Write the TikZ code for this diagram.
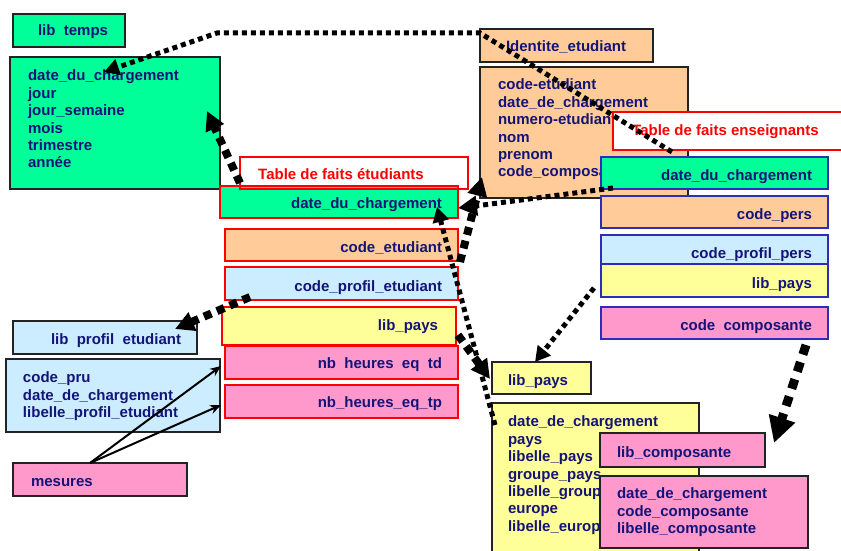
\documentclass[tikz,border=0pt]{standalone}
\usepackage{fontspec}
\setmainfont{Liberation Sans}
\usetikzlibrary{arrows.meta}
\definecolor{navy}{RGB}{20,20,120}
\definecolor{grn}{RGB}{0,255,153}
\definecolor{peach}{RGB}{255,204,153}
\definecolor{lblue}{RGB}{204,236,255}
\definecolor{ylw}{RGB}{255,255,153}
\definecolor{pnk}{RGB}{255,153,204}
\definecolor{dk}{RGB}{35,35,35}
\definecolor{bl}{RGB}{45,45,185}
\newcommand\ugap{\hspace{0.556em}}
\begin{document}
\begin{tikzpicture}[x=1pt,y=-1pt,
  bx/.style={rectangle, anchor=north west, inner sep=0pt, outer sep=0pt, line width=1.3pt},
  dimbox/.style={bx, draw=dk},
  factbox/.style={bx, draw=red},
  ensbox/.style={bx, draw=bl},
  txt/.style={inner sep=0pt, outer sep=0pt, text=navy, font=\fontsize{15}{17.4}\selectfont\bfseries},
  rtxt/.style={txt, anchor=base east},
  ltxt/.style={txt, anchor=base west},
  mtxt/.style={txt, anchor=north west, align=left},
  lbl/.style={inner sep=0pt, text=red, anchor=base west, font=\fontsize{15}{17.4}\selectfont\bfseries},
  dots/.style={line width=5pt, dash pattern=on 5pt off 4pt},
  bigdots/.style={line width=8pt, dash pattern=on 8pt off 6pt},
  hugedots/.style={line width=9pt, dash pattern=on 10pt off 8pt},
  tipS/.style={-{Triangle[length=15pt,width=16pt]}},
  tipM/.style={-{Triangle[length=19pt,width=19pt]}},
  tipL/.style={-{Triangle[length=26pt,width=26pt]}},
  solidarr/.style={line width=2pt, -{Stealth[length=11pt,width=9pt]}}
]
\useasboundingbox (0,0) rectangle (841,551);

% ---- lib_temps dimension
\node[dimbox, fill=grn, minimum width=112pt, minimum height=33pt] (lt) at (13,14) {};
\node[ltxt] (ltT) at (38,36) {lib\ugap temps};
\node[dimbox, fill=grn, minimum width=210pt, minimum height=132pt] (ltb) at (10,57) {};
\node[mtxt] (ltbT) at (28,70) {date\_du\_chargement\\jour\\jour\_semaine\\mois\\trimestre\\année};

% ---- identite etudiant
\node[dimbox, fill=peach, minimum width=173pt, minimum height=33pt] (id) at (480,29) {};
\node[ltxt] (idT) at (506,52) {Identite\_etudiant};
\node[dimbox, fill=peach, minimum width=208pt, minimum height=131pt] (idb) at (480,67) {};
\node[mtxt] (idbT) at (498,79) {code-etudiant\\date\_de\_chargement\\numero-etudiant\\nom\\prenom\\code\_composante};

% ---- fact table etudiants
\node[factbox, fill=grn, minimum width=238pt, minimum height=32pt] (fd) at (220,186) {};
\node[rtxt] (fdT) at (442,208) {date\_du\_chargement};
\node[factbox, draw=red, minimum width=228pt, minimum height=32pt] (fl) at (240,157) {};
\node[lbl] (flT) at (258,179) {Table de faits étudiants};
\node[factbox, fill=peach, minimum width=233pt, minimum height=32pt] (fc) at (225,229) {};
\node[rtxt] (fcT) at (442,252) {code\_etudiant};
\node[factbox, fill=lblue, minimum width=233pt, minimum height=33pt] (fp) at (225,267) {};
\node[rtxt] (fpT) at (442,291) {code\_profil\_etudiant};
\node[factbox, fill=ylw, minimum width=234pt, minimum height=38pt] (fy) at (222,307) {};
\node[rtxt] (fyT) at (438,330) {lib\_pays};
\node[factbox, fill=pnk, minimum width=233pt, minimum height=33pt] (fh) at (225,346) {};
\node[rtxt] (fhT) at (442,368) {nb\ugap heures\ugap eq\ugap td};
\node[factbox, fill=pnk, minimum width=233pt, minimum height=33pt] (ft) at (225,385) {};
\node[rtxt] (ftT) at (442,407) {nb\_heures\_eq\_tp};

% ---- fact table enseignants
\node[factbox, fill=white, minimum width=240pt, minimum height=38pt] (el) at (613,112) {};
\node[lbl] (elT) at (632,135) {Table de faits enseignants};
\node[ensbox, fill=grn, minimum width=227pt, minimum height=32pt] (ed) at (601,157) {};
\node[rtxt] (edT) at (812,180) {date\_du\_chargement};
\node[ensbox, fill=peach, minimum width=227pt, minimum height=32pt] (ec) at (601,196) {};
\node[rtxt] (ecT) at (812,219) {code\_pers};
\node[ensbox, fill=lblue, minimum width=227pt, minimum height=29pt] (ep) at (601,235) {};
\node[rtxt] (epT) at (812,258) {code\_profil\_pers};
\node[ensbox, fill=ylw, minimum width=227pt, minimum height=33pt] (ey) at (601,264) {};
\node[rtxt] (eyT) at (812,288) {lib\_pays};
\node[ensbox, fill=pnk, minimum width=227pt, minimum height=32pt] (eo) at (601,307) {};
\node[rtxt] (eoT) at (812,330) {code\ugap composante};

% ---- profil etudiant
\node[dimbox, fill=lblue, minimum width=184pt, minimum height=33pt] (pr) at (13,321) {};
\node[ltxt] (prT) at (51,344) {lib\ugap profil\ugap etudiant};
\node[dimbox, fill=lblue, minimum width=214pt, minimum height=73pt] (prb) at (6,359) {};
\node[mtxt] (prbT) at (23,372) {code\_pru\\date\_de\_chargement\\libelle\_profil\_etudiant};

% ---- mesures
\node[dimbox, fill=pnk, minimum width=174pt, minimum height=33pt] (me) at (13,463) {};
\node[ltxt] (meT) at (31,486) {mesures};

% ---- pays
\node[dimbox, fill=ylw, minimum width=99pt, minimum height=32pt] (py) at (492,362) {};
\node[ltxt] (pyT) at (508,385) {lib\_pays};
\node[dimbox, fill=ylw, minimum width=207pt, minimum height=170pt] (pyb) at (492,403) {};
\node[mtxt] (pybT) at (508,416) {date\_de\_chargement\\pays\\libelle\_pays\\groupe\_pays\\libelle\_group\\europe\\libelle\_europ};

% ---- composante
\node[dimbox, fill=pnk, minimum width=165pt, minimum height=34pt] (co) at (600,433) {};
\node[ltxt] (coT) at (617,457) {lib\_composante};
\node[dimbox, fill=pnk, minimum width=208pt, minimum height=72pt] (cob) at (600,476) {};
\node[mtxt] (cobT) at (617,488) {date\_de\_chargement\\code\_composante\\libelle\_composante};

% ---- connector end points
\coordinate (a1) at (672,152);
\coordinate (a2) at (480,33);
\coordinate (a3) at (217,33);
\coordinate (a4) at (104,72);
\coordinate (b1) at (240,183);
\coordinate (b2) at (207,111);
\coordinate (c1) at (250,297);
\coordinate (c2) at (175,329);
\coordinate (d1) at (613,188);
\coordinate (d2) at (483,205);
\coordinate (d3) at (458,208);
\coordinate (e1) at (460,262);
\coordinate (e2) at (482,177);
\coordinate (f1) at (495,425);
\coordinate (f2) at (437,207);
\coordinate (g1) at (458,335);
\coordinate (g2) at (490,379);
\coordinate (h1) at (594,288);
\coordinate (h2) at (535,362);
\coordinate (i1) at (806,345);
\coordinate (i2) at (774,443);
\coordinate (j0) at (90,463);
\coordinate (j1) at (221,366);
\coordinate (j2) at (221,405);

% ---- connectors
\draw[dots, tipS] (a1) -- (a2) -- (a3) -- (a4);
\draw[bigdots, tipM] (b1) -- (b2);
\draw[bigdots, tipM] (c1) -- (c2);
\draw[dots, tipM] (d1) -- (d2) -- (d3);
\draw[bigdots, tipM] (e1) -- (e2);
\draw[dots, tipS] (f1) -- (f2);
\draw[bigdots, tipM] (g1) -- (g2);
\draw[dots, tipS] (h1) -- (h2);
\draw[hugedots, tipL] (i1) -- (i2);
\draw[solidarr] (j0) -- (j1);
\draw[solidarr] (j0) -- (j2);
\end{tikzpicture}
\end{document}
